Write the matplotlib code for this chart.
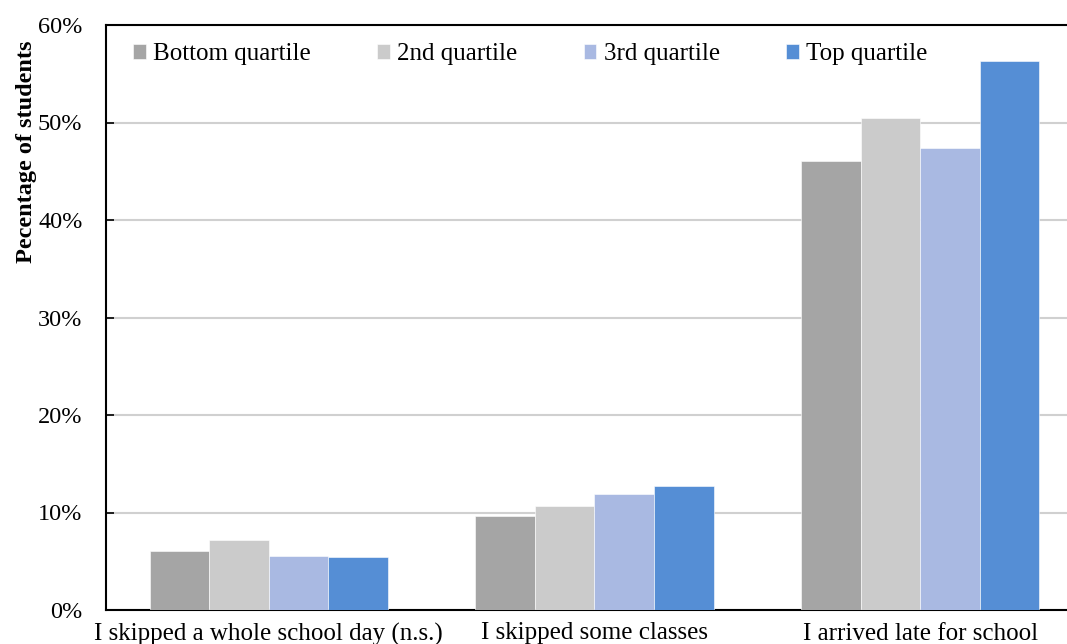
import numpy as np
import matplotlib.pyplot as plt

plt.rcParams['font.family'] = ['Liberation Serif', 'DejaVu Serif']

# datos
categorias = ['I skipped a whole school day (n.s.)', 'I skipped some classes', 'I arrived late for school']
series = ['Bottom quartile', '2nd quartile', '3rd quartile', 'Top quartile']
bottom_q = [6.1, 9.6, 46.1]
second_q = [7.2, 10.7, 50.5]
third_q = [5.5, 11.9, 47.4]
top_q = [5.4, 12.7, 56.3]
colores = ['#A5A5A5', '#CBCBCB', '#A9B9E2', '#558ED5']

valores = [bottom_q, second_q, third_q, top_q]

fig = plt.figure(figsize=(10.67, 6.44), dpi=100)
ax = fig.add_axes([106 / 1067, 1 - 610 / 644, 977 / 1067, 585 / 644])

x = np.arange(len(categorias))
ancho = 0.183
for i, (nombre, vals) in enumerate(zip(series, valores)):
    ax.bar(x + (i - 1.5) * ancho, vals, ancho, color=colores[i], label=nombre,
           edgecolor='white', linewidth=0.4, zorder=3)

ax.set_xlim(-0.5, 2.5)
ax.set_ylim(0, 60)
ax.set_yticks(np.arange(0, 61, 10))
ax.set_yticklabels([f'{v}%' for v in range(0, 61, 10)], fontsize=17.5)
ax.set_xticks(x)
ax.set_xticklabels(categorias, fontsize=18)
ax.tick_params(axis='x', length=0, pad=9)
ax.tick_params(axis='y', direction='in', length=6, width=1.2, pad=17)
ax.grid(axis='y', color='#D0D0D0', linewidth=1.5, zorder=0)
for lado in ['left', 'bottom', 'top']:
    ax.spines[lado].set_linewidth(1.5)
ax.spines['right'].set_visible(False)

ax.set_ylabel('Pecentage of students', fontsize=17.5, fontweight='bold')
ax.yaxis.set_label_coords(-0.071, 0.783)

ax.legend(loc='upper left', bbox_to_anchor=(0.005, 1.007), ncol=4, frameon=False,
          fontsize=18, handlelength=0.5, handleheight=0.5, handletextpad=0.3,
          columnspacing=2.65)

fig.savefig('out.png', dpi=100)
